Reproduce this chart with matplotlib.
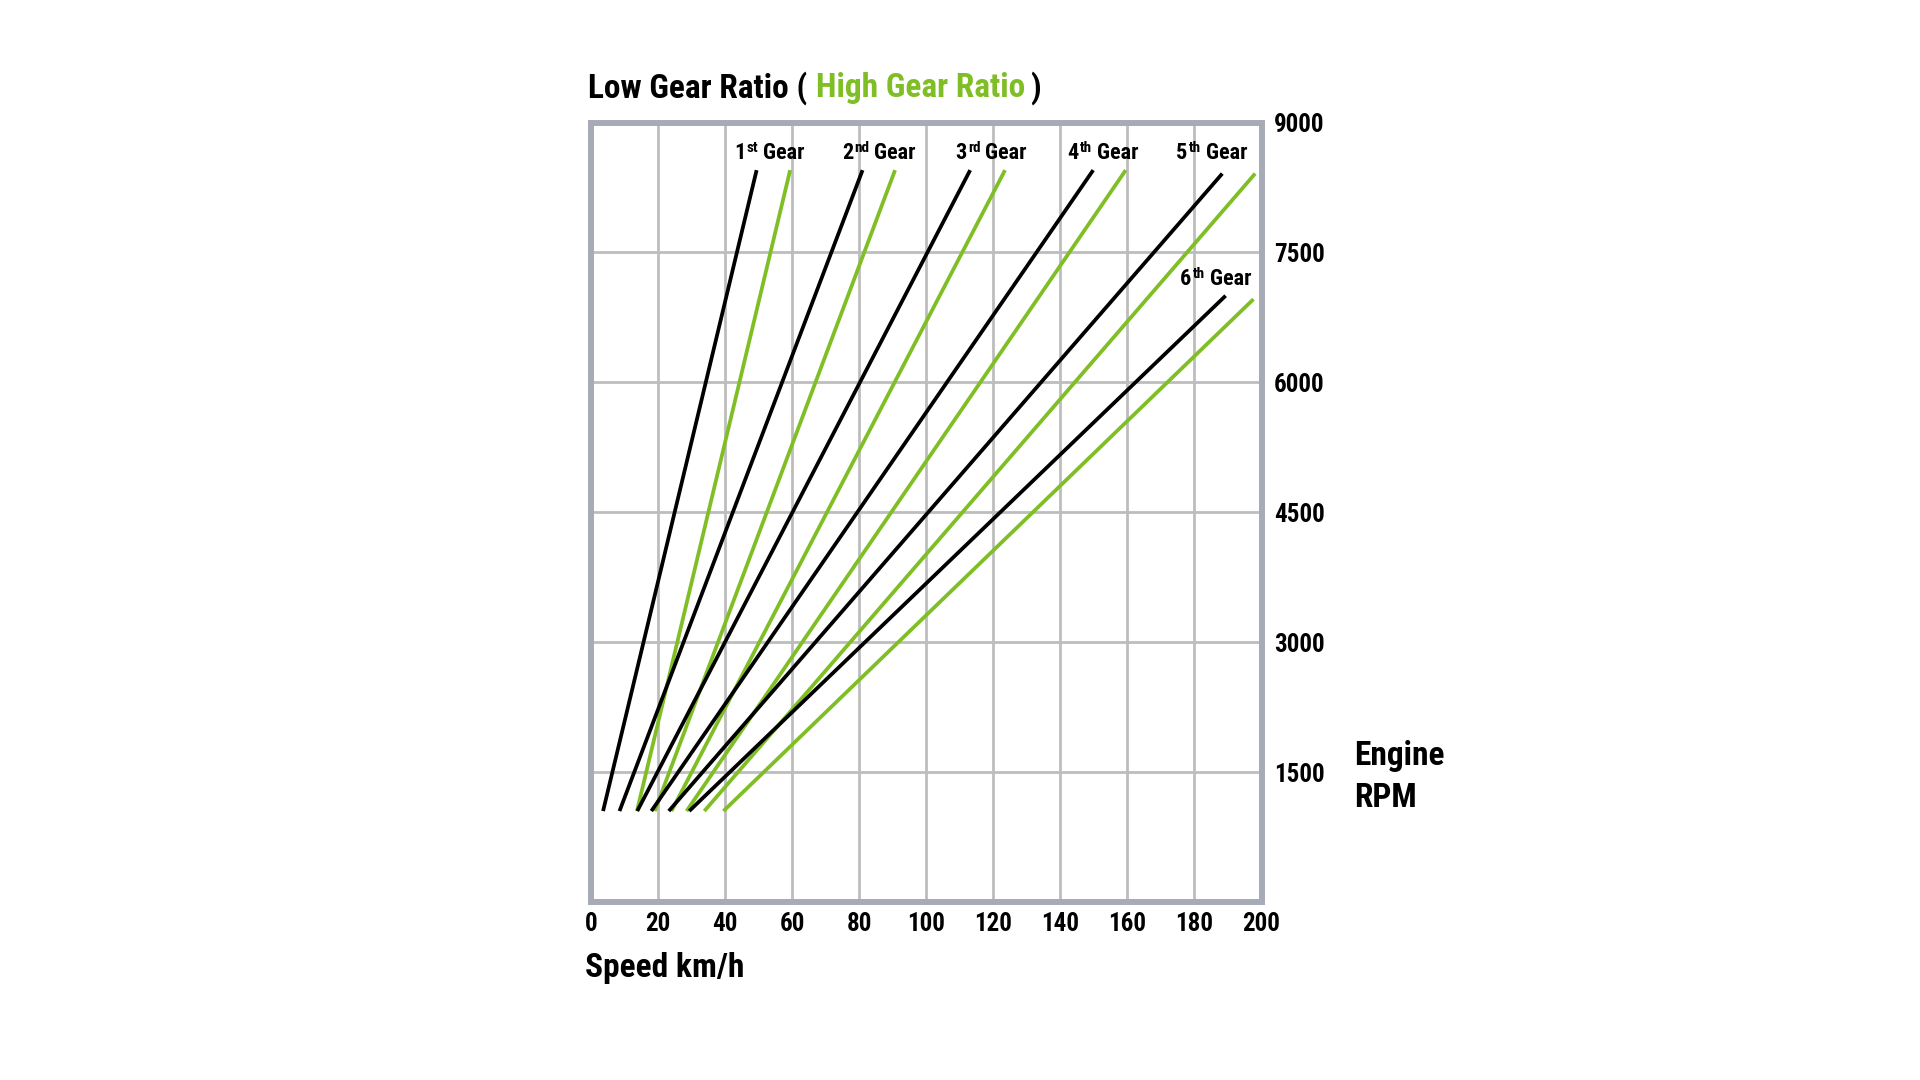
import matplotlib
matplotlib.use("Agg")
import matplotlib.pyplot as plt

FAM = ['Roboto Condensed', 'Roboto', 'DejaVu Sans']
plt.rcParams['font.family'] = FAM
plt.rcParams['font.weight'] = 'bold'

# ---- data ----
gears = ["1", "2", "3", "4", "5", "6"]
gear_suffix = ["st", "nd", "rd", "th", "th", "th"]

low_start_rpm = [1050, 1050, 1050, 1050, 1050, 1050]
low_start_speed = [3.6, 8.5, 13.8, 18.0, 23.2, 29.3]
low_end_rpm = [8450, 8450, 8450, 8450, 8410, 7000]
low_end_speed = [49.4, 81.0, 113.1, 149.8, 188.3, 189.3]

high_start_rpm = [1050, 1050, 1050, 1050, 1050, 1050]
high_start_speed = [13.7, 19.0, 24.0, 28.5, 33.8, 39.5]
high_end_rpm = [8450, 8450, 8450, 8450, 8410, 6960]
high_end_speed = [59.4, 90.7, 123.5, 159.5, 198.1, 197.6]

x_ticks = [0, 20, 40, 60, 80, 100, 120, 140, 160, 180, 200]
y_ticks = [1500, 3000, 4500, 6000, 7500, 9000]

# ---- style ----
BLACK = '#000000'
GREEN = '#80BE25'
FRAME = '#A7ABB8'
GRID = '#BDBDBD'

fig = plt.figure(figsize=(19.2, 10.8), dpi=100)
ax = fig.add_axes([591 / 1920, (1080 - 902) / 1080, (1261.5 - 591) / 1920, (902 - 122.5) / 1080])
ax.set_xlim(0, 200)
ax.set_ylim(0, 9000)

for sp in ax.spines.values():
    sp.set_color(FRAME)
    sp.set_linewidth(4.3)
    sp.set_zorder(5)

for xv in x_ticks[1:-1]:
    ax.axvline(xv, color=GRID, lw=2.0, zorder=1)
for yv in y_ticks[:-1]:
    ax.axhline(yv, color=GRID, lw=2.0, zorder=1)

for i in range(len(gears)):
    ax.plot([low_start_speed[i], low_end_speed[i]], [low_start_rpm[i], low_end_rpm[i]],
            color=BLACK, lw=2.7, solid_capstyle='butt', zorder=3)
    ax.plot([high_start_speed[i], high_end_speed[i]], [high_start_rpm[i], high_end_rpm[i]],
            color=GREEN, lw=2.7, solid_capstyle='butt', zorder=3)

ax.set_xticks(x_ticks)
ax.set_xticklabels([str(v) for v in x_ticks])
ax.set_yticks(y_ticks)
ax.set_yticklabels([str(v) for v in y_ticks])
ax.yaxis.tick_right()
ax.tick_params(axis='both', length=0, labelsize=18)
ax.tick_params(axis='x', pad=7)
ax.tick_params(axis='y', pad=9)
for lab in ax.get_xticklabels() + ax.get_yticklabels():
    lab.set_fontweight('bold')

# gear labels with superscripts
label_x = [42.7, 74.8, 108.7, 142.2, 174.5, 175.7]
label_y = [8580, 8580, 8580, 8580, 8580, 7125]
for i in range(len(gears)):
    t1 = ax.text(label_x[i], label_y[i], gears[i], fontsize=16, fontweight='bold',
                 ha='left', va='baseline', zorder=6)
    t2 = ax.annotate(gear_suffix[i], xy=(1, label_y[i]), xycoords=(t1, 'data'), xytext=(1, 5.2),
                     textcoords='offset points', fontsize=11, fontweight='bold',
                     ha='left', va='baseline', zorder=6)
    ax.annotate("Gear", xy=(1, label_y[i]), xycoords=(t2, 'data'), xytext=(3.5, 0),
                textcoords='offset points', fontsize=16, fontweight='bold',
                ha='left', va='baseline', zorder=6)

# title
ty = (1080 - 97.3) / 1080
tt1 = fig.text(588 / 1920, ty, "Low Gear Ratio (", fontsize=24,
               fontweight='bold', color=BLACK, ha='left', va='baseline')
tt2 = fig.add_artist(plt.matplotlib.text.Annotation(
    "High Gear Ratio", xy=(1, ty), xycoords=(tt1, 'figure fraction'), xytext=(6, 0),
    textcoords='offset points', fontsize=24, fontweight='bold',
    color=GREEN, ha='left', va='baseline', annotation_clip=False))
fig.add_artist(plt.matplotlib.text.Annotation(
    ")", xy=(1, ty), xycoords=(tt2, 'figure fraction'), xytext=(4, 0),
    textcoords='offset points', fontsize=24, fontweight='bold',
    color=BLACK, ha='left', va='baseline', annotation_clip=False))

fig.text(585 / 1920, (1080 - 977) / 1080, "Speed km/h", fontsize=24, fontweight='bold',
         ha='left', va='baseline')
fig.text(1354 / 1920, (1080 - 765) / 1080, "Engine", fontsize=24, fontweight='bold',
         ha='left', va='baseline')
fig.text(1354 / 1920, (1080 - 807) / 1080, "RPM", fontsize=24, fontweight='bold',
         ha='left', va='baseline')

fig.savefig("out.png", dpi=100, facecolor='white')
